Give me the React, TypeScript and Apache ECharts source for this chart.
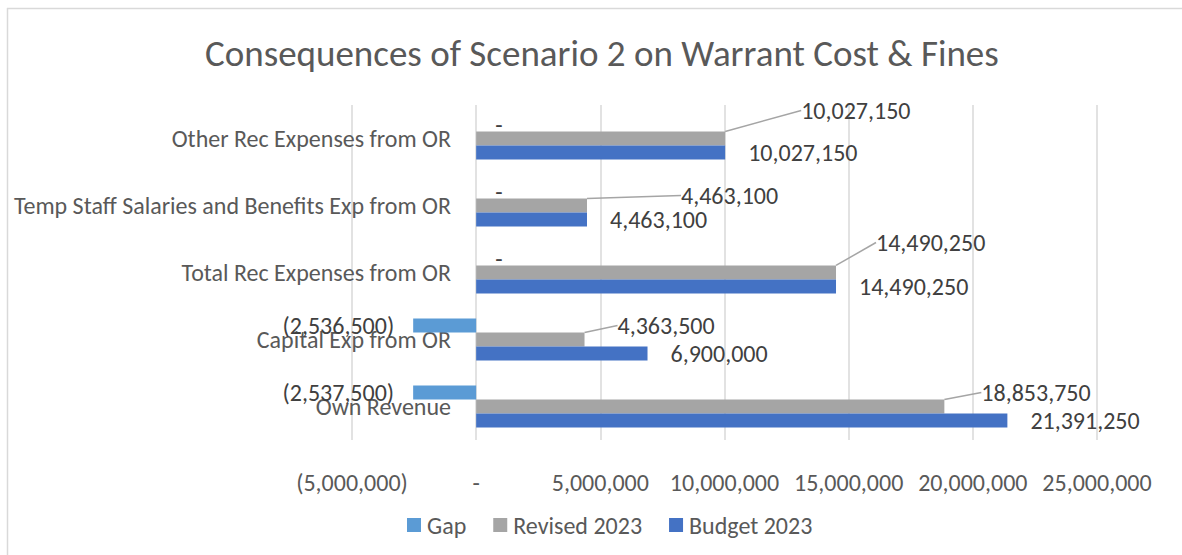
import React, { useEffect, useRef } from "react";
import * as echarts from "echarts";

const categories = [
  "Own Revenue",
  "Capital Exp from OR",
  "Total Rec Expenses from OR",
  "Temp Staff Salaries and Benefits Exp from OR",
  "Other Rec Expenses from OR",
];
const budget2023 = [21391250, 6900000, 14490250, 4463100, 10027150];
const revised2023 = [18853750, 4363500, 14490250, 4463100, 10027150];
const gap = [-2537500, -2536500, 0, 0, 0];

const xMin = -5000000;
const xMax = 25000000;
const xInterval = 5000000;

// label offsets (px) for the leader-lined "Revised 2023" labels, relative to bar end
const revisedLabelOffsets = [
  [28, -14],
  [24, -14],
  [31, -30],
  [85, -10],
  [67, -28],
];

const FONT = "Carlito, Lato, 'Open Sans', sans-serif";

function fmt(v: number): string {
  if (v === 0) return "-";
  const s = Math.abs(v).toLocaleString("en-US");
  return v < 0 ? "(" + s + ")" : s;
}

export default function App() {
  const ref = useRef<HTMLDivElement>(null);
  useEffect(() => {
    document.body.style.margin = "0";
    const chart = echarts.init(ref.current!, null, { renderer: "svg" });
    const labelColor = "#404040";
    chart.setOption({
      animation: false,
      backgroundColor: "#ffffff",
      title: {
        text: "Consequences of Scenario 2 on Warrant Cost & Fines",
        left: 200,
        top: 30,
        textStyle: { fontFamily: FONT, fontSize: 37, fontWeight: "normal", color: "#595959" },
      },
      legend: {
        left: 402,
        top: 508,
        itemWidth: 14,
        itemHeight: 14,
        itemGap: 27,
        icon: "rect",
        data: ["Gap", "Revised 2023", "Budget 2023"],
        textStyle: { fontFamily: FONT, fontSize: 24, color: "#595959", padding: [0, 0, 0, 1] },
      },
      grid: { left: 352, right: 85, top: 105, bottom: 115 },
      xAxis: {
        type: "value",
        min: xMin,
        max: xMax,
        interval: xInterval,
        axisLine: { show: false },
        axisTick: { show: false },
        splitLine: { show: true, lineStyle: { color: "#d9d9d9", width: 1.5 } },
        axisLabel: {
          margin: 30,
          fontFamily: FONT,
          fontSize: 24,
          color: "#595959",
          formatter: (v: number) => fmt(v),
        },
      },
      yAxis: {
        type: "category",
        data: categories,
        offset: -124,
        axisLine: { show: false, onZero: false },
        axisTick: { show: false },
        axisLabel: { margin: 25, fontFamily: FONT, fontSize: 24, color: "#595959" },
      },
      graphic: [
        { type: "line", shape: { x1: 7, y1: 8.5, x2: 1182, y2: 8.5 }, style: { stroke: "#d9d9d9", lineWidth: 1.5 } },
        { type: "line", shape: { x1: 7.5, y1: 8, x2: 7.5, y2: 555 }, style: { stroke: "#d9d9d9", lineWidth: 1.5 } },
      ],
      series: [
        {
          name: "Gap",
          type: "bar",
          data: gap.map((v) => ({
            value: v,
            label: { position: v < 0 ? "left" : "right" },
          })),
          barGap: "0%",
          barCategoryGap: "37%",
          itemStyle: { color: "#5B9BD5" },
          label: {
            show: true,
            distance: 19,
            fontFamily: FONT,
            fontSize: 24,
            color: labelColor,
            formatter: (p: any) => fmt(p.value),
          },
        },
        {
          name: "Revised 2023",
          type: "bar",
          data: revised2023,
          barGap: "0%",
          barCategoryGap: "37%",
          itemStyle: { color: "#A5A5A5" },
          label: {
            show: true,
            position: "right",
            padding: [0, 0, 0, 9],
            fontFamily: FONT,
            fontSize: 24,
            color: labelColor,
            formatter: (p: any) => fmt(p.value),
          },
          labelLine: { show: true, lineStyle: { color: "#A5A5A5", width: 1.5 } },
          labelLayout: (p: any) => {
            const off = revisedLabelOffsets[p.dataIndex];
            const r = p.rect;
            return {
              x: r.x + r.width + off[0],
              y: r.y + r.height / 2 + off[1],
              align: "left",
              verticalAlign: "middle",
            };
          },
        },
        {
          name: "Budget 2023",
          type: "bar",
          data: budget2023,
          barGap: "0%",
          barCategoryGap: "37%",
          itemStyle: { color: "#4472C4" },
          label: {
            show: true,
            position: "right",
            distance: 23,
            fontFamily: FONT,
            fontSize: 24,
            color: labelColor,
            formatter: (p: any) => fmt(p.value),
          },
        },
      ],
    });
    return () => chart.dispose();
  }, []);
  return <div ref={ref} style={{ width: 1182, height: 555 }} />;
}
